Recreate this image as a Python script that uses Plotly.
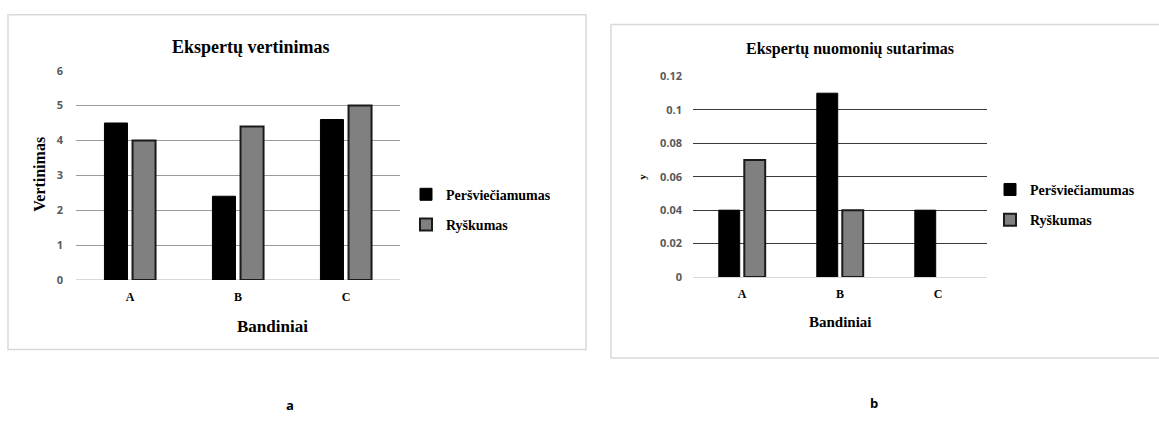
import plotly.graph_objects as go

W, H = 1159, 421

categories = ["A", "B", "C"]
series_names = ["Peršviečiamumas", "Ryškumas"]

# Chart a: Ekspertų vertinimas
a_persv = [4.5, 2.4, 4.6]
a_rysk = [4.0, 4.4, 5.0]
a_ticks = [0, 1, 2, 3, 4, 5, 6]

# Chart b: Ekspertų nuomonių sutarimas
b_persv = [0.04, 0.11, 0.04]
b_rysk = [0.07, 0.04, None]
b_ticks = [0, 0.02, 0.04, 0.06, 0.08, 0.1, 0.12]
b_ticktext = ["0", "0.02", "0.04", "0.06", "0.08", "0.1", "0.12"]


def px(x):
    return x / W


def py(y):
    return 1 - y / H


SERIF = "Liberation Serif, Times New Roman, serif"
SANS = "Open Sans, Liberation Sans, sans-serif"

fig = go.Figure()

fig.add_trace(go.Bar(x=categories, y=a_persv, name=series_names[0],
                     marker=dict(color="#000000", line=dict(color="#000000", width=1)),
                     xaxis="x", yaxis="y", legend="legend", legendgroup="a1"))
fig.add_trace(go.Bar(x=categories, y=a_rysk, name=series_names[1],
                     marker=dict(color="#808080", line=dict(color="#1a1a1a", width=2)),
                     xaxis="x", yaxis="y", legend="legend", legendgroup="a2"))
fig.add_trace(go.Bar(x=categories, y=b_persv, name=series_names[0],
                     marker=dict(color="#000000", line=dict(color="#000000", width=1)),
                     xaxis="x2", yaxis="y2", legend="legend2", legendgroup="b1"))
fig.add_trace(go.Bar(x=categories, y=b_rysk, name=series_names[1],
                     marker=dict(color="#808080", line=dict(color="#1a1a1a", width=2)),
                     xaxis="x2", yaxis="y2", legend="legend2", legendgroup="b2"))

tickfont_y = dict(family=SANS, size=11, color="#595959", weight="bold")
tickfont_x = dict(family=SERIF, size=12, color="#000000", weight="bold")

legend_common = dict(
    font=dict(family=SERIF, size=14, color="#000000", weight="bold"),
    bgcolor="rgba(0,0,0,0)", traceorder="grouped", tracegroupgap=9,
    itemwidth=30, xanchor="left", yanchor="top", orientation="v",
)

fig.update_layout(
    width=W, height=H,
    margin=dict(l=0, r=0, t=0, b=0),
    paper_bgcolor="white", plot_bgcolor="white",
    barmode="group", bargap=0.48, bargroupgap=0.18,
    showlegend=True,
    xaxis=dict(domain=[px(76), px(400)], anchor="y", showgrid=False, showline=False,
               ticks="", tickfont=tickfont_x, ticklabelstandoff=8),
    yaxis=dict(domain=[py(282), py(65)], anchor="x", range=[0, 6], tickvals=a_ticks,
               showgrid=True, gridcolor="#9a9a9a", gridwidth=1,
               zeroline=True, zerolinecolor="#d9d9d9", zerolinewidth=1,
               tickfont=tickfont_y, ticks="", ticklabelstandoff=12),
    xaxis2=dict(domain=[px(693), px(987)], anchor="y2", showgrid=False, showline=False,
                ticks="", tickfont=tickfont_x, ticklabelstandoff=8),
    yaxis2=dict(domain=[py(279), py(71)], anchor="x2", range=[0, 0.12], tickvals=b_ticks,
                ticktext=b_ticktext, showgrid=True, gridcolor="#3a3a3a", gridwidth=1,
                zeroline=True, zerolinecolor="#d9d9d9", zerolinewidth=1,
                tickfont=tickfont_y, ticks="", ticklabelstandoff=10),
    legend=dict(x=px(406), y=py(177), **legend_common),
    legend2=dict(x=px(990), y=py(172), **legend_common),
)

# chart frames
fig.add_shape(type="rect", xref="paper", yref="paper",
              x0=px(8), x1=px(586), y0=py(354), y1=py(7),
              line=dict(color="#d9d9d9", width=1.5), fillcolor="rgba(0,0,0,0)", layer="below")
fig.add_shape(type="rect", xref="paper", yref="paper",
              x0=px(611), x1=px(1162), y0=py(363), y1=py(17),
              line=dict(color="#d9d9d9", width=1.5), fillcolor="rgba(0,0,0,0)", layer="below")

def ann(text, x, y, size, family=SERIF, angle=0, color="#000000", bold=True):
    fig.add_annotation(text=text, xref="paper", yref="paper", x=px(x), y=py(y),
                       showarrow=False, textangle=angle, xanchor="center", yanchor="middle",
                       font=dict(family=family, size=size, color=color,
                                 weight="bold" if bold else "normal"))

ann("Ekspertų vertinimas", 251, 40, 18)
ann("Vertinimas", 40, 173, 16, angle=-90)
ann("Bandiniai", 272, 330, 17)

ann("Ekspertų nuomonių sutarimas", 850, 42, 16)
ann("y", 642, 175, 11, angle=-90)
ann("Bandiniai", 840, 326, 15)

ann("a", 290, 412, 13, family=SANS)
ann("b", 874, 410, 13, family=SANS)

fig.write_html("out.html", config={"displayModeBar": False},
               post_script="document.body.style.margin='0px';")
